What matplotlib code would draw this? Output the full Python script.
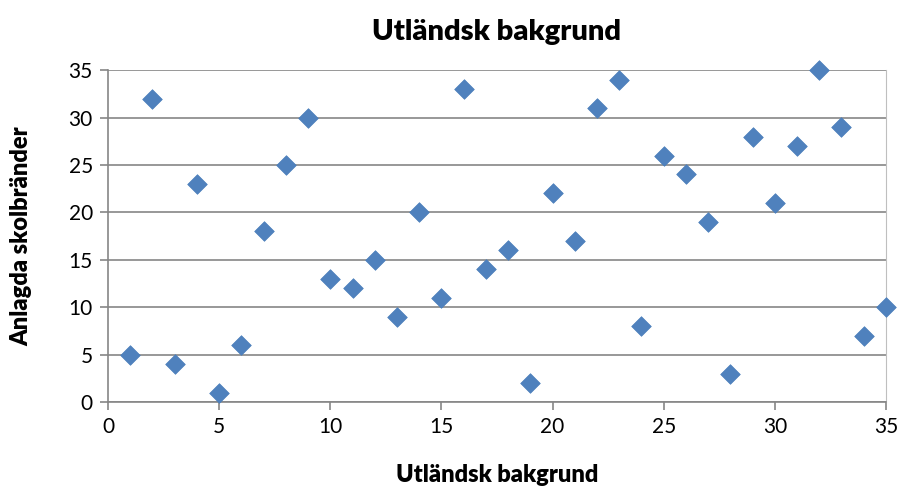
import matplotlib
matplotlib.use('Agg')
from matplotlib import pyplot as plt

# data
x_vals = list(range(1, 36))
y_vals = [5, 32, 4, 23, 1, 6, 18, 25, 30, 13, 12, 15, 9, 20, 11, 33, 14, 16, 2, 22,
          17, 31, 34, 8, 26, 24, 19, 3, 28, 21, 27, 35, 29, 7, 10]
x_ticks = [0, 5, 10, 15, 20, 25, 30, 35]
y_ticks = [0, 5, 10, 15, 20, 25, 30, 35]

plt.rcParams['font.family'] = ['Lato', 'DejaVu Sans']

fig = plt.figure(figsize=(9.04, 4.94), dpi=100)
ax = fig.add_axes([0.1195, 0.186, 0.8605, 0.672])

ax.scatter(x_vals, y_vals, marker='D', s=100, color='#4F81BD', edgecolors='#4A7EBB',
           linewidths=0.5, zorder=3, clip_on=False)

ax.set_xlim(0, 35)
ax.set_ylim(0, 35)
ax.set_xticks(x_ticks)
ax.set_yticks(y_ticks)
ax.yaxis.grid(True, color='#868686', linewidth=1.2)
ax.set_axisbelow(True)

ax.spines['top'].set_visible(False)
ax.spines['right'].set_color('#BFBFBF')
ax.spines['left'].set_color('#868686')
ax.spines['bottom'].set_color('#868686')
ax.spines['left'].set_linewidth(1.2)
ax.spines['bottom'].set_linewidth(1.2)
ax.tick_params(axis='both', direction='out', length=6, width=1.2, color='#868686',
               labelsize=15, pad=5)

ax.set_title('Utländsk bakgrund', fontsize=21, fontweight='heavy', pad=22)
ax.set_xlabel('Utländsk bakgrund', fontsize=17, fontweight='heavy', labelpad=19)
ax.set_ylabel('Anlagda skolbränder', fontsize=17, fontweight='heavy', labelpad=26)

plt.savefig('out.png', dpi=100)
